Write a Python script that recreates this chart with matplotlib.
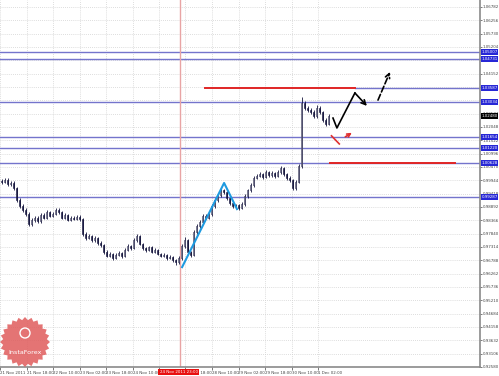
import numpy as np
import matplotlib
matplotlib.use('Agg')
import matplotlib.pyplot as plt
import matplotlib.transforms as mtransforms
from matplotlib.patches import Rectangle, Polygon, Circle

# --- data (bars, price) ---
closes = [0.9988, 0.9996, 0.9980, 0.9984, 0.9964, 0.9917, 0.9893, 0.9877, 0.9862, 0.9822,
          0.9838, 0.9846, 0.9834, 0.9858, 0.9846, 0.9869, 0.9854, 0.9862, 0.9877, 0.9869,
          0.9846, 0.9858, 0.9838, 0.9846, 0.9842, 0.9850, 0.9842, 0.9783, 0.9767, 0.9775,
          0.9759, 0.9767, 0.9747, 0.9739, 0.9712, 0.9696, 0.9704, 0.9688, 0.9700, 0.9708,
          0.9696, 0.9720, 0.9735, 0.9727, 0.9759, 0.9775, 0.9743, 0.9727, 0.9720, 0.9731,
          0.9712, 0.9720, 0.9704, 0.9696, 0.9700, 0.9688, 0.9692, 0.9680, 0.9672, 0.9688,
          0.9735, 0.9759, 0.9712, 0.9700, 0.9791, 0.9814, 0.9830, 0.9854, 0.9846, 0.9862,
          0.9893, 0.9917, 0.9937, 0.9956, 0.9948, 0.9925, 0.9905, 0.9893, 0.9897, 0.9885,
          0.9901, 0.9933, 0.9956, 0.9976, 1.0004, 1.0012, 1.0019, 1.0008, 1.0027, 1.0015,
          1.0023, 1.0012, 1.0027, 1.0043, 1.0019, 1.0004, 0.9996, 0.9964, 0.9988, 1.0051,
          1.0299, 1.0280, 1.0272, 1.0264, 1.0248, 1.0280, 1.0264, 1.0232, 1.0217, 1.0248]
highs = [0.9998, 1.0004, 1.0002, 0.9992, 0.9990, 0.9970, 0.9924, 0.9900, 0.9884, 0.9868,
         0.9846, 0.9854, 0.9852, 0.9866, 0.9864, 0.9878, 0.9875, 0.9870, 0.9886, 0.9884,
         0.9874, 0.9865, 0.9863, 0.9852, 0.9855, 0.9858, 0.9856, 0.9846, 0.9790, 0.9782,
         0.9780, 0.9774, 0.9772, 0.9754, 0.9745, 0.9718, 0.9710, 0.9709, 0.9706, 0.9715,
         0.9712, 0.9727, 0.9742, 0.9741, 0.9768, 0.9783, 0.9779, 0.9748, 0.9733, 0.9737,
         0.9736, 0.9726, 0.9725, 0.9709, 0.9706, 0.9704, 0.9698, 0.9697, 0.9684, 0.9694,
         0.9742, 0.9770, 0.9764, 0.9716, 0.9798, 0.9822, 0.9838, 0.9860, 0.9862, 0.9870,
         0.9900, 0.9925, 0.9945, 0.9968, 0.9962, 0.9952, 0.9930, 0.9910, 0.9903, 0.9902,
         0.9907, 0.9940, 0.9962, 0.9984, 1.0012, 1.0020, 1.0028, 1.0025, 1.0034, 1.0031,
         1.0030, 1.0028, 1.0035, 1.0052, 1.0048, 1.0024, 1.0010, 1.0000, 0.9994, 1.0058,
         1.0323, 1.0306, 1.0288, 1.0280, 1.0270, 1.0290, 1.0286, 1.0268, 1.0240, 1.0255]
lows = [0.9980, 0.9982, 0.9972, 0.9974, 0.9958, 0.9910, 0.9886, 0.9868, 0.9852, 0.9815,
        0.9816, 0.9830, 0.9826, 0.9828, 0.9840, 0.9840, 0.9848, 0.9850, 0.9856, 0.9862,
        0.9840, 0.9840, 0.9832, 0.9833, 0.9836, 0.9836, 0.9835, 0.9776, 0.9760, 0.9762,
        0.9752, 0.9753, 0.9740, 0.9733, 0.9705, 0.9690, 0.9690, 0.9681, 0.9684, 0.9694,
        0.9689, 0.9690, 0.9714, 0.9720, 0.9722, 0.9752, 0.9738, 0.9720, 0.9713, 0.9714,
        0.9706, 0.9708, 0.9698, 0.9690, 0.9690, 0.9682, 0.9684, 0.9674, 0.9662, 0.9666,
        0.9682, 0.9728, 0.9705, 0.9692, 0.9694, 0.9784, 0.9808, 0.9824, 0.9840, 0.9840,
        0.9855, 0.9886, 0.9910, 0.9930, 0.9940, 0.9918, 0.9898, 0.9886, 0.9888, 0.9878,
        0.9880, 0.9895, 0.9926, 0.9948, 0.9970, 0.9998, 1.0006, 1.0001, 1.0002, 1.0008,
        1.0009, 1.0005, 1.0006, 1.0020, 1.0012, 0.9996, 0.9989, 0.9955, 0.9958, 0.9982,
        1.0045, 1.0272, 1.0264, 1.0256, 1.0240, 1.0242, 1.0256, 1.0225, 1.0210, 1.0212]
first_open = 0.9990

# price scale labels on the right
y_ticks = [0.92580, 0.93106, 0.93632, 0.94158, 0.94684, 0.95210, 0.95736, 0.96262,
           0.96788, 0.97314, 0.97840, 0.98366, 0.98892, 0.99418, 0.99944, 1.00470,
           1.00996, 1.01522, 1.02048, 1.02574, 1.03100, 1.03626, 1.04152, 1.04678,
           1.05204, 1.05730, 1.06256, 1.06782]
y_tick_labels = ['%.5f' % v for v in y_ticks]

# time scale
x_tick_pos = [-0.5, 8.5, 17.2, 26.0, 34.8, 43.7, 52.5, 61.3, 70.2, 79.0, 87.8, 96.7, 105.5]
x_tick_labels = ['21 Nov 2011', '21 Nov 18:00', '22 Nov 10:00', '23 Nov 02:00', '23 Nov 18:00',
                 '24 Nov 10:00', '25 Nov 02:00', '25 Nov 18:00', '28 Nov 10:00', '29 Nov 02:00',
                 '29 Nov 18:00', '30 Nov 10:00', '1 Dec 02:00']
cursor_x = 59.5
cursor_label = '24 Nov 2011 23:00'

# support / resistance levels
blue_levels = [1.05007, 1.04731, 1.03034, 1.01654, 1.01220, 1.00628, 0.99287]
blue_level_right = 1.03587          # only drawn right of the red segment
red_upper = (1.03587, 67.8, 117.8)  # price, x start, x end
red_lower = (1.00628, 109.5, 151.2)

# drawings
trend_x = [60.2, 74.2, 78.5]
trend_y = [0.9652, 0.9984, 0.9881]
black_x = [110.5, 111.8, 117.8, 121.8]
black_y = [1.0240, 1.0201, 1.0339, 1.0288]
dash_x = [125.5, 129.5]
dash_y = [1.0311, 1.0422]
red_arrow_x = [110.0, 112.6, 114.6, 116.8]
red_arrow_y = [1.0170, 1.0138, 1.0166, 1.0182]

bar_color = '#14143c'
blue_line = '#7474cc'
label_blue = '#2727d6'
fs = 2.9
narrow = ['Liberation Sans Narrow', 'DejaVu Sans']
x_right = -0.5 + 480 / 3

fig = plt.figure(figsize=(4.99, 3.76), dpi=100)
ax = fig.add_axes([0, 9 / 376, 480 / 499, 367 / 376])
ax.set_xlim(-0.5, x_right)
ax.set_ylim(0.92580, 1.07058)

# grid
for xp in x_tick_pos:
    ax.axvline(xp, color='#d2d2d2', lw=0.6, ls=(0, (1, 1.5)), zorder=0)
for yp in y_ticks:
    ax.axhline(yp, color='#d2d2d2', lw=0.6, ls=(0, (1, 1.5)), zorder=0)

# levels
for lv in blue_levels:
    ax.axhline(lv, color=blue_line, lw=1.0, zorder=1)
ax.plot([red_upper[2], x_right], [blue_level_right] * 2, color=blue_line, lw=1.0, zorder=1)
ax.plot([red_upper[1], red_upper[2]], [red_upper[0]] * 2, color='#e02525', lw=1.4, zorder=2)
ax.plot([red_lower[1], red_lower[2]], [red_lower[0]] * 2, color='#e02525', lw=1.4, zorder=2)
ax.axvline(cursor_x, color='#e8a4a4', lw=1.0, zorder=1)

# candles
opens = [first_open] + closes[:-1]
for i, (o, h, l, c) in enumerate(zip(opens, highs, lows, closes)):
    ax.vlines(i, l, h, color=bar_color, lw=0.6, zorder=3)
    lo, hi = min(o, c), max(o, c)
    face = 'white' if c >= o else bar_color
    ax.add_patch(Rectangle((i - 0.28, lo), 0.56, max(hi - lo, 0.00012),
                           facecolor=face, edgecolor=bar_color, lw=0.4, zorder=4))

# trend lines and arrows
ax.plot(trend_x, trend_y, color='#1e9ae0', lw=1.5, zorder=5)
ax.plot(black_x[:-1], black_y[:-1], color='black', lw=1.2, zorder=5)
ax.annotate('', xy=(black_x[-1], black_y[-1]), xytext=(black_x[-2], black_y[-2]),
            arrowprops=dict(arrowstyle='->', lw=1.2, color='black', shrinkA=0, shrinkB=0,
                            mutation_scale=8))
ax.annotate('', xy=(dash_x[1], dash_y[1]), xytext=(dash_x[0], dash_y[0]),
            arrowprops=dict(arrowstyle='->', lw=1.2, color='black', ls='--', shrinkA=0,
                            shrinkB=0, mutation_scale=8))
ax.plot(red_arrow_x[:2], red_arrow_y[:2], color='#e03030', lw=1.2, zorder=5)
ax.annotate('', xy=(red_arrow_x[3], red_arrow_y[3]), xytext=(red_arrow_x[2], red_arrow_y[2]),
            arrowprops=dict(arrowstyle='->', lw=1.2, color='#e03030', shrinkA=0, shrinkB=0,
                            mutation_scale=6))

# axes styling
ax.set_facecolor('white')
for s in ['top', 'left']:
    ax.spines[s].set_visible(False)
for s in ['right', 'bottom']:
    ax.spines[s].set_color('#8a8a8a')
    ax.spines[s].set_linewidth(1.2)
ax.yaxis.tick_right()
ax.set_yticks(y_ticks, y_tick_labels)
ax.set_xticks(x_tick_pos, x_tick_labels)
ax.tick_params(axis='y', labelsize=fs, colors='#444444', length=1.5, width=0.5, pad=0.6)
ax.tick_params(axis='x', labelsize=fs, colors='#444444', length=2, width=0.5, pad=1)
for lab in ax.get_xticklabels():
    lab.set_ha('left')
    lab.set_family(narrow)
for lab in ax.get_yticklabels():
    lab.set_family(narrow)

# price labels for the levels
trans = mtransforms.blended_transform_factory(ax.transAxes, ax.transData)
for lv in blue_levels + [blue_level_right]:
    ax.text(1.003, lv, '%.5f' % lv, transform=trans, fontsize=fs, color='white',
            family=narrow, va='center', ha='left', clip_on=False, zorder=10,
            bbox=dict(boxstyle='square,pad=0.2', fc=label_blue, ec='none'))
ax.text(1.003, closes[-1], '%.5f' % closes[-1], transform=trans, fontsize=fs, color='white',
        family=narrow, va='center', ha='left', clip_on=False, zorder=10,
        bbox=dict(boxstyle='square,pad=0.2', fc='black', ec='none'))

# crosshair time label
transx = mtransforms.blended_transform_factory(ax.transData, ax.transAxes)
ax.text(cursor_x - 6.8, -0.008, cursor_label, transform=transx, fontsize=fs, color='white',
        family=narrow, va='top', ha='left', clip_on=False, zorder=10,
        bbox=dict(boxstyle='square,pad=0.35', fc='#e81010', ec='none'))

# logo overlay (pixel coordinates)
ov = fig.add_axes([0, 0, 1, 1], zorder=20)
ov.set_xlim(0, 499)
ov.set_ylim(376, 0)
ov.axis('off')
ang = np.linspace(0, 2 * np.pi, 49)[:-1]
rad = np.where(np.arange(48) % 2 == 0, 25, 22)
ov.add_patch(Polygon(np.column_stack([25 + rad * np.cos(ang), 342 + rad * np.sin(ang)]),
                     closed=True, fc='#e05c5c', ec='none', alpha=0.85))
ov.add_patch(Circle((25, 333), 5, fc='none', ec='white', lw=1.0))
ov.text(25, 353, 'InstaForex', fontsize=4.6, color='white', ha='center', va='center')

fig.savefig('out.png', dpi=100)
